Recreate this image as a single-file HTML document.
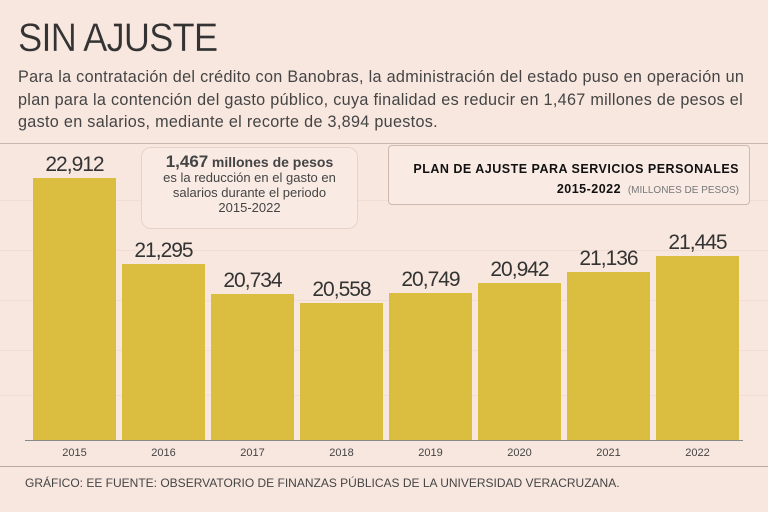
<!DOCTYPE html>
<html><head><meta charset="utf-8"><style>
body{margin:0;width:768px;height:512px;background:#f8e7df;font-family:"Liberation Sans",sans-serif;color:#333;position:relative;overflow:hidden}
.a{position:absolute;white-space:nowrap}
.bar{position:absolute;background:#dbbe40;width:83px;bottom:72px}
.v{position:absolute;width:83px;text-align:center;font-size:21px;color:#333;letter-spacing:-1px}
.y{position:absolute;width:83px;text-align:center;font-size:11px;color:#444;top:447px}
.g{position:absolute;left:0;width:768px;height:1px;background:#f1ddd4}
</style></head><body>
<div class="a" style="left:18px;top:16px;font-size:40px;color:#333;letter-spacing:-1px;transform:scaleX(0.91);transform-origin:0 0;-webkit-text-stroke:0.3px #f8e7df">SIN AJUSTE</div>
<div class="a" style="left:18px;top:66px;font-size:16.2px;line-height:22.5px;color:#444;letter-spacing:0.3px">Para la contratación del crédito con Banobras, la administración del estado puso en operación un<br>plan para la contención del gasto público, cuya finalidad es reducir en 1,467 millones de pesos el<br>gasto en salarios, mediante el recorte de 3,894 puestos.</div>
<div class="a" style="left:0;top:143px;width:768px;height:1px;background:#c9b7ae"></div>
<div class="g" style="top:200px"></div><div class="g" style="top:250px"></div><div class="g" style="top:300px"></div><div class="g" style="top:350px"></div><div class="g" style="top:395px"></div>
<div class="a" style="left:141px;top:147px;width:215px;height:80px;border:1px solid #e6d2c8;border-radius:10px;text-align:center;font-size:13px;line-height:15px;color:#444;background:#f9ebe4">
<div style="margin-top:6px"><b style="font-size:17px">1,467</b> <b style="font-size:14px">millones de pesos</b></div>es la reducción en el gasto en<br>salarios durante el periodo<br>2015-2022</div>
<div class="a" style="left:388px;top:145px;width:360px;height:58px;border:1px solid #cdb9b0;border-radius:4px;text-align:right;background:#f9ebe4">
<div style="margin:13px 10px 0 0;font-size:12.5px;font-weight:bold;color:#111;letter-spacing:.5px;line-height:20px">PLAN DE AJUSTE PARA SERVICIOS PERSONALES<br>2015-2022 <span style="font-weight:normal;font-size:10px;color:#777;letter-spacing:0">&nbsp;(MILLONES DE PESOS)</span></div></div>
<div class="bar" style="left:33px;top:178px"></div><div class="v" style="left:33px;top:153px">22,912</div>
<div class="bar" style="left:122px;top:264px"></div><div class="v" style="left:122px;top:239px">21,295</div>
<div class="bar" style="left:211px;top:294px"></div><div class="v" style="left:211px;top:269px">20,734</div>
<div class="bar" style="left:300px;top:303px"></div><div class="v" style="left:300px;top:278px">20,558</div>
<div class="bar" style="left:389px;top:293px"></div><div class="v" style="left:389px;top:268px">20,749</div>
<div class="bar" style="left:478px;top:283px"></div><div class="v" style="left:478px;top:258px">20,942</div>
<div class="bar" style="left:567px;top:272px"></div><div class="v" style="left:567px;top:247px">21,136</div>
<div class="bar" style="left:656px;top:256px"></div><div class="v" style="left:656px;top:231px">21,445</div>
<div class="a" style="left:25px;top:440px;width:718px;height:1px;background:#888"></div>
<div class="y" style="left:33px">2015</div><div class="y" style="left:122px">2016</div><div class="y" style="left:211px">2017</div><div class="y" style="left:300px">2018</div><div class="y" style="left:389px">2019</div><div class="y" style="left:478px">2020</div><div class="y" style="left:567px">2021</div><div class="y" style="left:656px">2022</div>
<div class="a" style="left:0;top:466px;width:768px;height:1px;background:#bbaaa2"></div>
<div class="a" style="left:25px;top:476px;font-size:12px;color:#444">GRÁFICO: EE  FUENTE: OBSERVATORIO DE FINANZAS PÚBLICAS DE LA UNIVERSIDAD VERACRUZANA.</div>
</body></html>
